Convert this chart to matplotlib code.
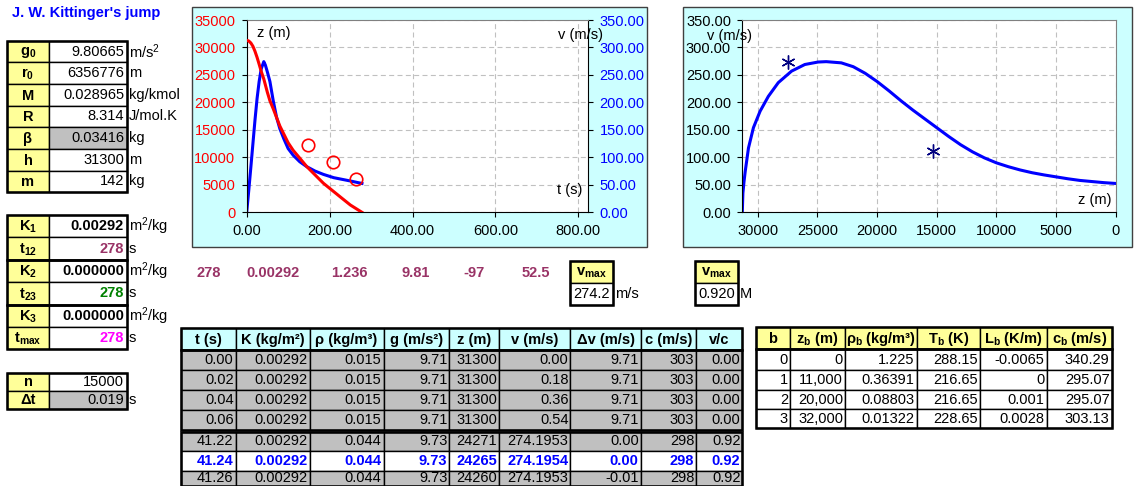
import numpy as np
import matplotlib
matplotlib.use('Agg')
import matplotlib.pyplot as plt
from matplotlib.patches import Rectangle
from matplotlib.ticker import FormatStrFormatter

plt.rcParams['font.family'] = ['Liberation Sans', 'DejaVu Sans']
plt.rcParams['mathtext.fontset'] = 'custom'
plt.rcParams['mathtext.rm'] = 'Liberation Sans'
plt.rcParams['mathtext.bf'] = 'Liberation Sans:bold'
plt.rcParams['mathtext.it'] = 'Liberation Sans:italic'

# --- input parameters ---
param_labels = [r'$\mathbf{g_0}$', r'$\mathbf{r_0}$', 'M', 'R', 'β', 'h', 'm']
param_values = ['9.80665', '6356776', '0.028965', '8.314', '0.03416', '31300', '142']
param_units = ['m/s$^2$', 'm', 'kg/kmol', 'J/mol.K', 'kg', 'm', 'kg']

k_labels = [r'$\mathbf{K_1}$', r'$\mathbf{t_{12}}$', r'$\mathbf{K_2}$', r'$\mathbf{t_{23}}$',
            r'$\mathbf{K_3}$', r'$\mathbf{t_{max}}$']
k_values = ['0.00292', '278', '0.000000', '278', '0.000000', '278']
k_colors = ['black', '#993366', 'black', '#008000', 'black', '#FF00FF']
k_units = ['m$^2$/kg', 's', 'm$^2$/kg', 's', 'm$^2$/kg', 's']

n_steps = 15000
dt = 0.019

end_values = ['278', '0.00292', '1.236', '9.81', '-97', '52.5']
v_peak = 274.2
mach_peak = 0.920

# --- z(t) and v(t) during the fall ---
t_s = [0, 5, 10, 15, 20, 25, 30, 35, 41.24, 45, 50, 56, 64, 72, 80, 90, 100,
       112, 128, 145, 165, 185, 210, 230, 250, 278]
z_t = [31300, 31180, 30820, 30220, 29300, 28200, 26950, 25650, 24265, 23200, 21800,
       20300, 18840, 17260, 15700, 14170, 12650, 11290, 9850, 8310, 6800, 5290,
       3760, 2540, 1330, 0]
v_t = [0, 40, 82, 125, 168, 207, 238, 261, v_peak, 268, 255, 238, 203, 173, 152,
       133, 116, 104, 92, 83, 75, 69, 63, 60, 57, 52.5]

# measured altitudes (circles)
obs_t = [149, 209, 264]
obs_z = [12200, 9100, 6100]

# --- v(z) profile ---
zv_z = [31300, 31250, 31160, 31058, 30783, 30367, 29808, 29117, 28283, 27167, 26058,
        24950, 24265, 23000, 22000, 21000, 20000, 19000, 18000, 17000, 16000, 15000,
        14000, 13000, 12000, 11000, 10000, 9000, 8000, 7000, 6000, 5000, 4000, 3000,
        2000, 1000, 0]
zv_v = [0, 35, 55, 74, 117, 154, 184, 211, 236, 257, 269, 273.5, v_peak, 272, 265,
        253, 238, 221, 203, 186, 170, 154, 138, 123, 110, 99, 90, 83, 77, 72, 68,
        64.5, 61, 58, 56, 54, 52.5]

# reported speeds (asterisks)
rep_z = [27450, 15280]
rep_v = [274, 112]

# --- simulation table excerpt ---
tab_header = ['t (s)', 'K (kg/m²)', 'ρ (kg/m³)', 'g (m/s²)', 'z (m)', 'v (m/s)',
              'Δv (m/s)', 'c (m/s)', 'v/c']
tab_rows = [
    ['0.00', '0.00292', '0.015', '9.71', '31300', '0.00', '9.71', '303', '0.00'],
    ['0.02', '0.00292', '0.015', '9.71', '31300', '0.18', '9.71', '303', '0.00'],
    ['0.04', '0.00292', '0.015', '9.71', '31300', '0.36', '9.71', '303', '0.00'],
    ['0.06', '0.00292', '0.015', '9.71', '31300', '0.54', '9.71', '303', '0.00'],
    ['41.22', '0.00292', '0.044', '9.73', '24271', '274.1953', '0.00', '298', '0.92'],
    ['41.24', '0.00292', '0.044', '9.73', '24265', '274.1954', '0.00', '298', '0.92'],
    ['41.26', '0.00292', '0.044', '9.73', '24260', '274.1953', '-0.01', '298', '0.92'],
]
peak_row = 5

# --- standard atmosphere layers ---
atm_header = ['b', r'$\mathbf{z_b}$ (m)', r'$\mathbf{\rho_b}$ (kg/m³)', r'$\mathbf{T_b}$ (K)',
              r'$\mathbf{L_b}$ (K/m)', r'$\mathbf{c_b}$ (m/s)']
atm_b = ['0', '1', '2', '3']
atm_z = ['0', '11,000', '20,000', '32,000']
atm_rho = ['1.225', '0.36391', '0.08803', '0.01322']
atm_T = ['288.15', '216.65', '216.65', '228.65']
atm_L = ['-0.0065', '0', '0.001', '0.0028']
atm_c = ['340.29', '295.07', '295.07', '303.13']

YELLOW = '#FFFF99'
GREY = '#C0C0C0'
CYAN = '#CCFFFF'
MAROON = '#993366'
W, H = 1135, 486


def frac(x0, y0, x1, y1):
    return [x0 / W, 1 - y1 / H, (x1 - x0) / W, (y1 - y0) / H]


fig = plt.figure(figsize=(W / 100, H / 100), dpi=100)
bg = fig.add_axes([0, 0, 1, 1])
bg.set_xlim(0, W)
bg.set_ylim(H, 0)
bg.axis('off')


def cell(x0, y0, x1, y1, fc='white', lw=1.0):
    r = Rectangle((x0, y0), x1 - x0, y1 - y0, facecolor=fc, edgecolor='black', linewidth=lw)
    bg.add_patch(r)
    return r


def frame(x0, y0, x1, y1, lw=1.8):
    bg.add_patch(Rectangle((x0, y0), x1 - x0, y1 - y0, fill=False, edgecolor='black', linewidth=lw))


def txt(x, y, s, ha='left', size=10.5, color='black', weight='normal', clip=None):
    t = bg.text(x, y, s, ha=ha, va='center', fontsize=size, color=color, fontweight=weight)
    if clip is not None:
        t.set_clip_path(clip)
    return t


def ftxt(x, y, s, size=10.5, color='black'):
    fig.text(x / W, 1 - y / H, s, ha='left', va='center', fontsize=size, color=color)


# title
txt(12, 13, "J. W. Kittinger's jump", color='#0000FF', weight='bold', size=10.5)

# parameter block
for i in range(len(param_labels)):
    y0 = 40.7 + 21.65 * i
    y1 = y0 + 21.65
    cell(7.3, y0, 49, y1, YELLOW)
    cell(49, y0, 126.7, y1, GREY if param_labels[i] == 'β' else 'white')
    txt(28, (y0 + y1) / 2 + 1, param_labels[i], ha='center', weight='bold')
    txt(124, (y0 + y1) / 2, param_values[i], ha='right')
    txt(129, (y0 + y1) / 2, param_units[i])
frame(7.3, 40.7, 126.7, 40.7 + 21.65 * 7)

# drag coefficients block
for i in range(len(k_labels)):
    y0 = 215 + 22.4 * i
    y1 = y0 + 22.4
    cell(7.3, y0, 49, y1, YELLOW)
    cell(49, y0, 126.7, y1, 'white')
    txt(28, (y0 + y1) / 2 + 1, k_labels[i], ha='center', weight='bold')
    txt(124, (y0 + y1) / 2, k_values[i], ha='right', color=k_colors[i], weight='bold')
    txt(129, (y0 + y1) / 2, k_units[i])
for i in range(3):
    frame(7.3, 215 + 44.8 * i, 126.7, 215 + 44.8 * (i + 1))

# step block
for i, (lab, val, fc) in enumerate([('n', str(n_steps), 'white'), ('Δt', '%.3f' % dt, GREY)]):
    y0 = 372.7 + 18.3 * i
    y1 = y0 + 18.3
    cell(7.3, y0, 49, y1, YELLOW)
    cell(49, y0, 126.7, y1, fc)
    txt(28, (y0 + y1) / 2, lab, ha='center', weight='bold')
    txt(124, (y0 + y1) / 2, val, ha='right')
txt(129, 400, 's')
frame(7.3, 372.7, 126.7, 409.3)

# end-of-fall values
for x, s in zip([220.7, 300, 367.3, 430, 485, 550], end_values):
    txt(x, 273.3, s, ha='right', color=MAROON, weight='bold')

# v_max boxes
for x0, x1, val, unit in [(569.8, 612.5, '%.1f' % v_peak, 'm/s'),
                          (694.7, 737.5, '%.3f' % mach_peak, 'M')]:
    cell(x0, 260.7, x1, 283.3, YELLOW)
    cell(x0, 283.3, x1, 305, 'white')
    txt((x0 + x1) / 2, 273, r'$\mathbf{v_{max}}$', ha='center')
    txt(x1 - 2.5, 294.2, val, ha='right')
    txt(x1 + 2.5, 294.2, unit)
    frame(x0, 260.7, x1, 305)

# simulation table
tcols = [181, 235.5, 309.5, 383.5, 449.4, 498.9, 570.4, 640.7, 696.2, 742.4]
for j, h in enumerate(tab_header):
    cell(tcols[j], 328.3, tcols[j + 1], 350, CYAN)
    txt((tcols[j] + tcols[j + 1]) / 2, 339.5, h, ha='center', weight='bold', size=10.5)
row_spans = [(350, 370), (370, 390), (390, 410), (410, 430),
             (431.5, 451.3), (451.3, 470.5), (470.5, 485.5)]
for i, row in enumerate(tab_rows):
    y0, y1 = row_spans[i]
    hot = i == peak_row
    for j, s in enumerate(row):
        cell(tcols[j], y0, tcols[j + 1], y1, 'white' if hot else GREY)
        txt(tcols[j + 1] - 2, (y0 + y1) / 2, s, ha='right', size=10.5,
            color='#0000FF' if hot else 'black', weight='bold' if hot else 'normal')
frame(181, 328.3, 742.4, 350)
frame(181, 350, 742.4, 430)
frame(181, 431.5, 742.4, 485.5)

# atmosphere table
acols = [756, 790, 845, 916.7, 980, 1046.7, 1111.7]
for j, h in enumerate(atm_header):
    r = cell(acols[j], 327.3, acols[j + 1], 349.3, YELLOW)
    txt((acols[j] + acols[j + 1]) / 2, 338.5, h, ha='center', weight='bold', clip=r)
arows = [(349.3, 370), (370, 390), (390, 409.3), (409.3, 428.3)]
for i in range(len(atm_b)):
    y0, y1 = arows[i]
    vals = [atm_b[i], atm_z[i], atm_rho[i], atm_T[i], atm_L[i], atm_c[i]]
    for j, s in enumerate(vals):
        cell(acols[j], y0, acols[j + 1], y1, 'white')
        txt(acols[j + 1] - 2, (y0 + y1) / 2, s, ha='right')
frame(756, 327.3, 1111.7, 349.3)
frame(756, 349.3, 1111.7, 428.3)

# chart panels
for x0, x1 in [(191.7, 647.3), (683.3, 1131.7)]:
    bg.add_patch(Rectangle((x0, 7.3), x1 - x0, 240, facecolor=CYAN, edgecolor='#404040', linewidth=1))

grid_kw = dict(color='#C0C0C0', linestyle=(0, (4.5, 3)), linewidth=0.8)
tick_kw = dict(direction='out', length=3.6, width=0.8, pad=4.5, labelsize=10.5)

# chart 1: z(t) and v(t)
axv = fig.add_axes(frac(246.7, 20, 588.3, 212.3))
axz = axv.twinx()
axv.yaxis.tick_right()
axv.yaxis.set_label_position('right')
axz.yaxis.tick_left()
axz.yaxis.set_label_position('left')

axv.set_xlim(0, 824)
axv.set_ylim(0, 350)
axv.set_xticks([0, 200, 400, 600, 800])
axv.set_yticks(np.arange(0, 351, 50))
axv.xaxis.set_major_formatter(FormatStrFormatter('%.2f'))
axv.yaxis.set_major_formatter(FormatStrFormatter('%.2f'))
axv.grid(True, **grid_kw)
axv.set_axisbelow(True)
axv.tick_params(**tick_kw)
axv.tick_params(axis='y', labelcolor='#0000FF')
axv.spines['top'].set_color('#808080')
for s in ['left', 'bottom', 'right']:
    axv.spines[s].set_color('black')
axv.plot(t_s, v_t, color='#0000FF', linewidth=2.2)

axz.set_ylim(0, 35000)
axz.set_yticks(np.arange(0, 35001, 5000))
axz.yaxis.set_major_formatter(FormatStrFormatter('%d'))
axz.tick_params(**tick_kw)
axz.tick_params(axis='y', labelcolor='#FF0000')
for sp in axz.spines.values():
    sp.set_visible(False)
axz.plot(t_s, z_t, color='#FF0000', linewidth=2.2)
axz.plot(obs_t, obs_z, 'o', mfc='none', mec='#FF0000', ms=9, mew=1.2)

ftxt(256.7, 33.5, 'z (m)')
ftxt(558, 35, 'v (m/s)')
ftxt(556.7, 190, 't (s)')

# chart 2: v(z)
ax2 = fig.add_axes(frac(742.3, 20, 1115.7, 212.3))
ax2.set_xlim(31300, 0)
ax2.set_ylim(0, 350)
ax2.set_xticks(np.arange(30000, -1, -5000))
ax2.set_yticks(np.arange(0, 351, 50))
ax2.xaxis.set_major_formatter(FormatStrFormatter('%d'))
ax2.yaxis.set_major_formatter(FormatStrFormatter('%.2f'))
ax2.grid(True, **grid_kw)
ax2.set_axisbelow(True)
ax2.tick_params(**tick_kw)
ax2.spines['top'].set_color('#808080')
ax2.spines['right'].set_color('#808080')
ax2.plot(zv_z, zv_v, color='#0000FF', linewidth=2.2)
ax2.plot(rep_z, rep_v, linestyle='none', marker=(6, 2, 0), ms=10, mec='#000080', mew=1.0)

ftxt(706.7, 36, 'v (m/s)')
ftxt(1078, 199.5, 'z (m)')

fig.savefig('out.png', dpi=100)
